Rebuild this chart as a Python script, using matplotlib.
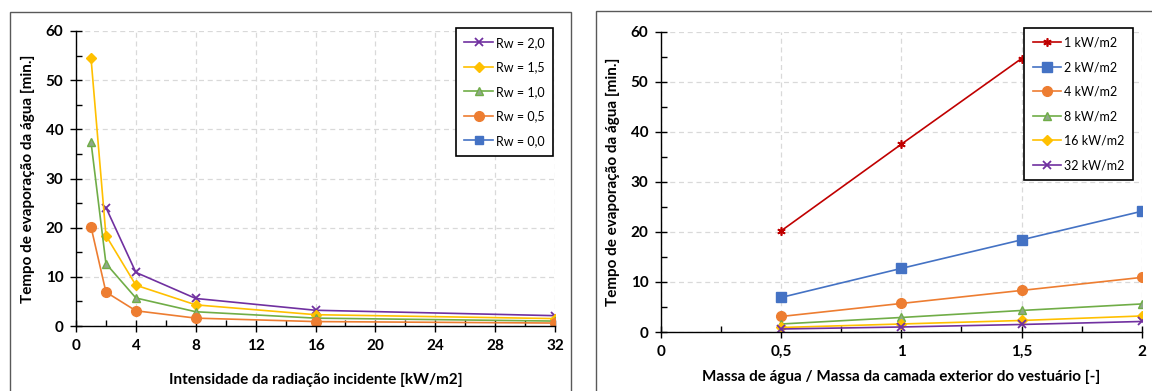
import numpy as np
import matplotlib
matplotlib.use("Agg")
import matplotlib.pyplot as plt
from matplotlib.patches import Rectangle

plt.rcParams['font.family'] = ['Lato', 'DejaVu Sans']

# --- dados: grafico da esquerda (tempo vs intensidade) ---
intensidade = [1, 2, 4, 8, 16, 32]
rw_labels = ["Rw = 2,0", "Rw = 1,5", "Rw = 1,0", "Rw = 0,5", "Rw = 0,0"]
rw_20 = [np.nan, 24.1, 10.9, 5.6, 3.2, 2.1]
rw_15 = [54.6, 18.4, 8.3, 4.3, 2.3, 1.5]
rw_10 = [37.5, 12.7, 5.7, 2.9, 1.6, 1.0]
rw_05 = [20.2, 6.9, 3.1, 1.6, 0.9, 0.6]
rw_00 = [np.nan] * 6

# --- dados: grafico da direita (tempo vs razao de massa) ---
razao = [0.5, 1.0, 1.5, 2.0]
q_labels = ["1 kW/m2", "2 kW/m2", "4 kW/m2", "8 kW/m2", "16 kW/m2", "32 kW/m2"]
q_1 = [20.2, 37.5, 54.6, np.nan]
q_2 = [6.9, 12.7, 18.4, 24.1]
q_4 = [3.1, 5.7, 8.3, 10.9]
q_8 = [1.6, 2.9, 4.3, 5.6]
q_16 = [0.9, 1.6, 2.3, 3.2]
q_32 = [0.6, 1.0, 1.5, 2.1]

roxo, amarelo, verde, laranja, azul, vermelho = "#7030A0", "#FFC000", "#70AD47", "#ED7D31", "#4472C4", "#C00000"

fig = plt.figure(figsize=(11.52, 3.91), dpi=100)

# molduras das areas de grafico
fig.add_artist(Rectangle((10 / 1152, -0.05), 561 / 1152, 1.05 - 12 / 391, transform=fig.transFigure,
                         fill=False, edgecolor="#595959", lw=1))
fig.add_artist(Rectangle((596 / 1152, -0.05), 0.6, 1.05 - 11 / 391, transform=fig.transFigure,
                         fill=False, edgecolor="#595959", lw=1))

ax1 = fig.add_axes([76 / 1152, 1 - 326 / 391, (555 - 76) / 1152, (326 - 31) / 391])
ax2 = fig.add_axes([661 / 1152, 1 - 332 / 391, (1141.7 - 661) / 1152, (332 - 31.5) / 391])

estilo = dict(lw=1.2, markersize=6)
ax1.plot(intensidade, rw_20, color=roxo, marker="x", mew=1.3, label=rw_labels[0], **estilo)
ax1.plot(intensidade, rw_15, color=amarelo, marker="D", markersize=5, lw=1.2, label=rw_labels[1])
ax1.plot(intensidade, rw_10, color=verde, marker="^", mfc="#8FA88A", mec=verde, label=rw_labels[2], **estilo)
ax1.plot(intensidade, rw_05, color=laranja, marker="o", markersize=7, lw=1.2, label=rw_labels[3])
ax1.plot(intensidade, rw_00, color=azul, marker="s", label=rw_labels[4], **estilo)

ax2.plot(razao, q_1, color=vermelho, marker=(6, 2, 0), mew=1.2, label=q_labels[0], **estilo)
ax2.plot(razao, q_2, color=azul, marker="s", markersize=7, lw=1.2, label=q_labels[1])
ax2.plot(razao, q_4, color=laranja, marker="o", markersize=7, lw=1.2, label=q_labels[2])
ax2.plot(razao, q_8, color=verde, marker="^", mfc="#8FA88A", mec=verde, label=q_labels[3], **estilo)
ax2.plot(razao, q_16, color=amarelo, marker="D", markersize=5, lw=1.2, label=q_labels[4])
ax2.plot(razao, q_32, color=roxo, marker="x", mew=1.3, label=q_labels[5], **estilo)

ylab = "Tempo de evaporação da água [min.]"
for ax in (ax1, ax2):
    ax.set_ylim(0, 60)
    ax.set_yticks(range(0, 61, 10))
    ax.set_yticks(range(5, 60, 10), minor=True)
    ax.grid(True, which="major", ls=(0, (4, 3)), color="#D9D9D9", lw=0.9)
    ax.set_axisbelow(True)
    for s in ("top", "right"):
        ax.spines[s].set_visible(False)
    for s in ("left", "bottom"):
        ax.spines[s].set_color("black")
        ax.spines[s].set_linewidth(1)
    ax.tick_params(which="major", direction="inout", length=8, width=1, labelsize=11, pad=5)
    ax.tick_params(which="minor", direction="in", length=4, width=1)
    ax.set_ylabel(ylab, fontsize=11, fontweight="bold", labelpad=8)

ax1.set_xlim(0, 32)
ax1.set_xticks(range(0, 33, 4))
ax1.set_xticks(range(2, 32, 4), minor=True)
ax1.set_xticklabels([str(v) for v in range(0, 33, 4)], fontweight="bold")
ax1.set_yticklabels([str(v) for v in range(0, 61, 10)], fontweight="bold")
ax1.set_xlabel("Intensidade da radiação incidente [kW/m2]", fontsize=11, fontweight="bold", labelpad=15)

ax2.set_xlim(0, 2)
ax2.set_xticks([0, 0.5, 1, 1.5, 2])
ax2.set_xticks([0.25, 0.75, 1.25, 1.75], minor=True)
ax2.set_xticklabels(["0", "0,5", "1", "1,5", "2"], fontweight="bold")
ax2.set_yticklabels([str(v) for v in range(0, 61, 10)], fontweight="bold")
ax2.set_xlabel("Massa de água / Massa da camada exterior do vestuário [-]", fontsize=11,
               fontweight="bold", labelpad=8)

leg_kw = dict(loc="upper right", fontsize=9, fancybox=False, framealpha=1, edgecolor="black",
              handlelength=2.3, labelspacing=1.0, borderpad=0.7, handletextpad=0.2, borderaxespad=0)
l1 = ax1.legend(bbox_to_anchor=(553 / 1152, 1 - 28 / 391), bbox_transform=fig.transFigure, **leg_kw)
l2 = ax2.legend(bbox_to_anchor=(1133 / 1152, 1 - 28 / 391), bbox_transform=fig.transFigure, **leg_kw)
for l in (l1, l2):
    l.get_frame().set_linewidth(1.2)

fig.savefig("out.png", dpi=100)
